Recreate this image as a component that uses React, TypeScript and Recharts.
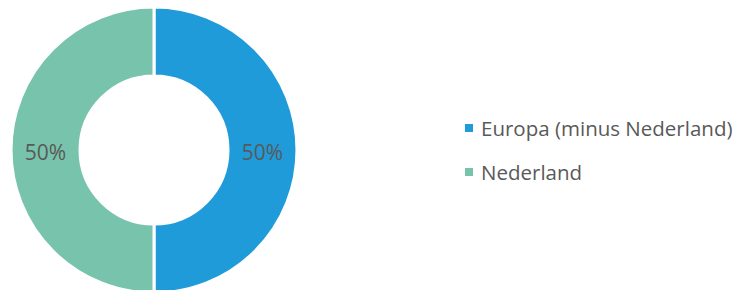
import { Cell, Pie, PieChart } from "recharts";

const regions = ["Europa (minus Nederland)", "Nederland"];
const shares = [50, 50];
const colors = ["#1F9BD9", "#77C3AC"];

const data = regions.map((name, i) => ({ name, value: shares[i], color: colors[i] }));

const RADIAN = Math.PI / 180;

function renderLabel(props: any) {
  const { cx, cy, midAngle, innerRadius, outerRadius, value } = props;
  const r = (innerRadius + outerRadius) / 2;
  const x = cx + r * Math.cos(-midAngle * RADIAN);
  const y = cy + r * Math.sin(-midAngle * RADIAN);
  return (
    <text x={x} y={y + 2} fill="#595959" fontSize={21} textAnchor="middle" dominantBaseline="central">
      {value}%
    </text>
  );
}

function LegendList() {
  return (
    <div
      style={{
        position: "absolute",
        left: 465,
        top: 106,
        fontFamily: "'Open Sans', sans-serif",
        fontSize: 20.5,
        color: "#595959",
        whiteSpace: "nowrap",
      }}
    >
      {data.map((d) => (
        <div key={d.name} style={{ display: "flex", alignItems: "center", height: 44 }}>
          <span style={{ width: 8, height: 8, background: d.color, marginRight: 8, display: "inline-block" }} />
          <span>{d.name}</span>
        </div>
      ))}
    </div>
  );
}

export default function App() {
  return (
    <div style={{ position: "absolute", left: 0, top: 0, width: 735, height: 290, background: "#fff" }}>
      <PieChart
        width={735}
        height={290}
        margin={{ top: 0, right: 0, bottom: 0, left: 0 }}
        style={{ fontFamily: "'Open Sans', sans-serif" }}
      >
        <Pie
          data={data}
          dataKey="value"
          nameKey="name"
          cx={154}
          cy={150}
          innerRadius={74}
          outerRadius={143}
          startAngle={90}
          endAngle={-270}
          stroke="#fff"
          strokeWidth={3}
          label={renderLabel}
          labelLine={false}
          isAnimationActive={false}
        >
          {data.map((d) => (
            <Cell key={d.name} fill={d.color} />
          ))}
        </Pie>
      </PieChart>
      <LegendList />
    </div>
  );
}
